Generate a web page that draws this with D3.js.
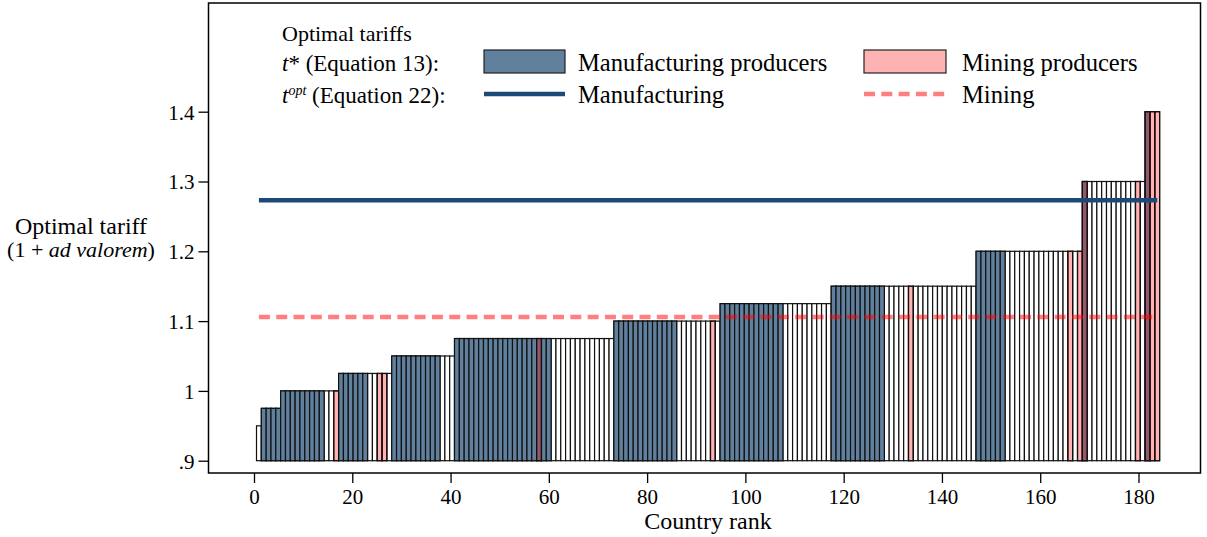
<!DOCTYPE html>
<html>
<head>
<meta charset="utf-8">
<script src="https://cdn.jsdelivr.net/npm/d3@7"></script>
<style>
body{margin:0;background:#fff;}
text{font-family:"Liberation Serif","Times New Roman",serif;fill:#000;}
</style>
</head>
<body>
<script>
// t* per country, countries sorted by rank 1..187
var tariff=[
    0.95,
    0.975,0.975,0.975,0.975,
    1,1,1,1,1,1,1,1,1,1,1,1,
    1.025,1.025,1.025,1.025,1.025,1.025,1.025,1.025,1.025,1.025,1.025,
    1.05,1.05,1.05,1.05,1.05,1.05,1.05,1.05,1.05,1.05,1.05,1.05,1.05,
    1.075,1.075,1.075,1.075,1.075,1.075,1.075,1.075,1.075,1.075,1.075,1.075,1.075,1.075,1.075,1.075,1.075,
    1.075,1.075,1.075,1.075,1.075,1.075,1.075,1.075,1.075,1.075,1.075,1.075,1.075,1.075,1.075,1.075,
    1.1,1.1,1.1,1.1,1.1,1.1,1.1,1.1,1.1,1.1,1.1,1.1,1.1,1.1,1.1,1.1,1.1,1.1,1.1,1.1,1.1,1.1,
    1.125,1.125,1.125,1.125,1.125,1.125,1.125,1.125,1.125,1.125,1.125,1.125,
    1.125,1.125,1.125,1.125,1.125,1.125,1.125,1.125,1.125,1.125,1.125,
    1.15,1.15,1.15,1.15,1.15,1.15,1.15,1.15,1.15,1.15,1.15,1.15,1.15,1.15,1.15,
    1.15,1.15,1.15,1.15,1.15,1.15,1.15,1.15,1.15,1.15,1.15,1.15,1.15,1.15,1.15,
    1.2,1.2,1.2,1.2,1.2,1.2,1.2,1.2,1.2,1.2,1.2,1.2,1.2,1.2,1.2,1.2,1.2,1.2,1.2,1.2,1.2,1.2,
    1.3,1.3,1.3,1.3,1.3,1.3,1.3,1.3,1.3,1.3,1.3,1.3,1.3,
    1.4,1.4,1.4
];
// M = manufacturing producer, N = mining producer, B = both, W = neither
var sector=
    "W"+
    "MMMM"+
    "MMMMMMMMMWWN"+
    "MMMMMMWWNNW"+
    "MMMMMMMMMMWWW"+
    "MMMMMMMMMMMMMMMMMBMMWWWWWWWWWWWWW"+
    "MMMMMMMMMMMMMWWWWWWWNW"+
    "MMMMMMMMMMMMMWWWWWWWWWW"+
    "MMMMMMMMMMMWWWWWNWWWWWWWWWWWWW"+
    "MMMMMMWWWWWWWWWWWWWNWN"+
    "BWWWWWWWWWWNW"+
    "BNN";
var optManufacturing=1.273; // t opt (Equation 22)
var optMining=1.106;
var xTicks=[0,20,40,60,80,100,120,140,160,180];
var yTicks=[0.9,1,1.1,1.2,1.3,1.4];
var yTickLabels=[".9","1","1.1","1.2","1.3","1.4"];

var width=1207, height=537;
var blue="rgb(96,128,157)", navy="#1c4a78", red="#ff0000";

var svg=d3.select("body").append("svg")
    .attr("width",width)
    .attr("height",height);

var x=d3.scaleLinear().domain([0,180]).range([254,1138.5]);
var y=d3.scaleLinear().domain([0.9,1.4]).range([460.7,111.7]);

var data=tariff.map(function(d,i){return {rank:i+1,t:d,s:sector[i]};});
// countries sit side by side between ~0.5 and ~184.3 on the rank axis
var band=d3.scaleBand().domain(data.map(function(d){return d.rank;}))
    .range([x(0.51),x(184.3)]);
var bw=band.bandwidth();

function bars(g,rows,fill,op){
    g.selectAll("rect")
        .data(rows).enter().append("rect")
        .attr("x",function(d){return band(d.rank);})
        .attr("y",function(d){return y(d.t);})
        .attr("width",bw)
        .attr("height",function(d){return y(0.9)-y(d.t);})
        .attr("fill",fill)
        .attr("fill-opacity",op)
        .attr("stroke","#111")
        .attr("stroke-width",1.2);
}
bars(svg.append("g"),data,"#fff",1);
bars(svg.append("g"),data.filter(function(d){return d.s=="M"||d.s=="B";}),blue,1);
// mining producers, translucent so overlap shows darker
bars(svg.append("g"),data.filter(function(d){return d.s=="N"||d.s=="B";}),red,0.3);

// t opt lines
var lx1=band(1)+bw/2, lx2=band(187)+bw/2;
svg.append("line")
    .attr("x1",lx1).attr("x2",lx2)
    .attr("y1",y(optManufacturing)).attr("y2",y(optManufacturing))
    .attr("stroke",navy).attr("stroke-width",4.5);
svg.append("line")
    .attr("x1",lx1).attr("x2",lx2)
    .attr("y1",y(optMining)).attr("y2",y(optMining))
    .attr("stroke",red).attr("stroke-opacity",0.5)
    .attr("stroke-width",4.5).attr("stroke-dasharray","11,6.3");

// frame
svg.append("rect")
    .attr("x",208.5).attr("y",3).attr("width",992).attr("height",470)
    .attr("fill","none").attr("stroke","#000").attr("stroke-width",1.5);

// axes
var yAxis=svg.append("g")
    .attr("transform","translate(208.5,0)")
    .call(d3.axisLeft(y).tickValues(yTicks).tickSize(10).tickSizeOuter(0).tickPadding(4)
        .tickFormat(function(d,i){return yTickLabels[i];}));
var xAxis=svg.append("g")
    .attr("transform","translate(0,473)")
    .call(d3.axisBottom(x).tickValues(xTicks).tickSize(10).tickSizeOuter(0).tickPadding(6));
[yAxis,xAxis].forEach(function(a){
    a.select(".domain").remove();
    a.selectAll("line").attr("stroke","#000").attr("stroke-width",1.3);
    a.selectAll("text").attr("font-family","Liberation Serif").attr("font-size","21px").attr("fill","#000");
});
yAxis.selectAll("text").attr("dy","0.35em");

// axis titles
svg.append("text").attr("x",708).attr("y",529).attr("text-anchor","middle")
    .attr("font-size","24px").text("Country rank");
svg.append("text").attr("x",81).attr("y",234).attr("text-anchor","middle")
    .attr("font-size","24px").text("Optimal tariff");
var yt=svg.append("text").attr("x",81).attr("y",257).attr("text-anchor","middle")
    .attr("font-size","22px");
yt.append("tspan").text("(1 + ");
yt.append("tspan").attr("font-style","italic").text("ad valorem");
yt.append("tspan").text(")");

// legend
var lg=svg.append("g").attr("font-size","23px");
lg.append("text").attr("x",282).attr("y",41).attr("font-size","22px").text("Optimal tariffs");
var r1=lg.append("text").attr("x",282).attr("y",71);
r1.append("tspan").attr("font-style","italic").text("t");
r1.append("tspan").text("* (Equation 13):");
var r2=lg.append("text").attr("x",282).attr("y",103);
r2.append("tspan").attr("font-style","italic").text("t");
r2.append("tspan").attr("font-style","italic").attr("font-size","14px").attr("dy","-8").text("opt");
r2.append("tspan").attr("dy","8").text(" (Equation 22):");

lg.append("rect").attr("x",484).attr("y",50).attr("width",81).attr("height",23)
    .attr("fill",blue).attr("stroke","#222").attr("stroke-width",1.2);
lg.append("text").attr("x",578).attr("y",71).attr("font-size","24.6px").text("Manufacturing producers");
lg.append("rect").attr("x",864).attr("y",50).attr("width",82).attr("height",23)
    .attr("fill",red).attr("fill-opacity",0.3).attr("stroke","#222").attr("stroke-width",1.2);
lg.append("text").attr("x",962).attr("y",71).attr("font-size","24.6px").text("Mining producers");

lg.append("line").attr("x1",484).attr("x2",565).attr("y1",94).attr("y2",94)
    .attr("stroke",navy).attr("stroke-width",4.5);
lg.append("text").attr("x",578).attr("y",103).attr("font-size","24.6px").text("Manufacturing");
lg.append("line").attr("x1",864).attr("x2",946).attr("y1",94).attr("y2",94)
    .attr("stroke",red).attr("stroke-opacity",0.5).attr("stroke-width",4.5)
    .attr("stroke-dasharray","11,6.3");
lg.append("text").attr("x",962).attr("y",103).attr("font-size","24.6px").text("Mining");
</script>
</body>
</html>
